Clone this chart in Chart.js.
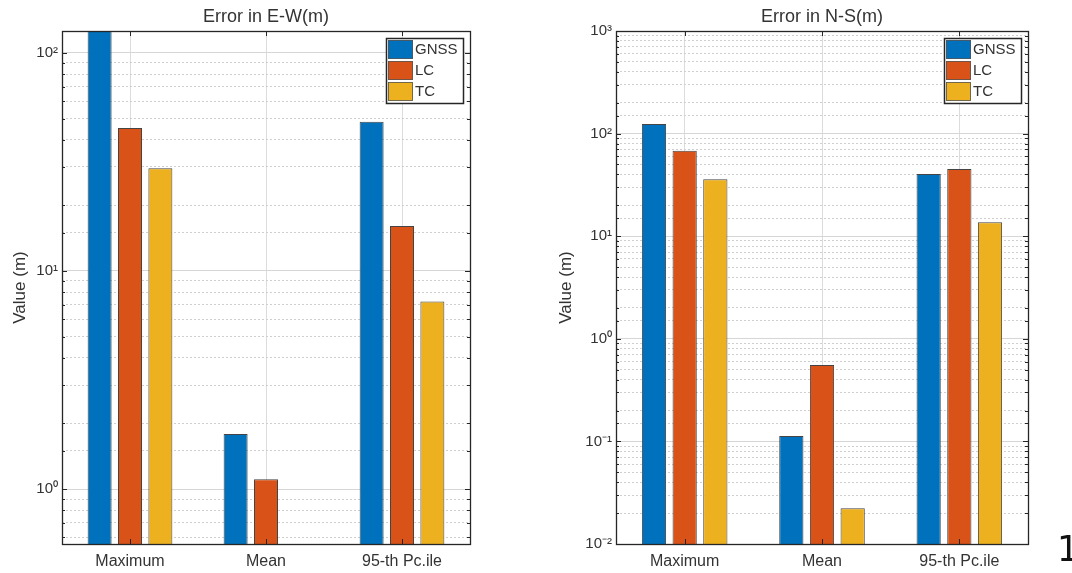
<!DOCTYPE html>
<html>
<head>
<meta charset="utf-8">
<script src="https://cdn.jsdelivr.net/npm/chart.js@4.4.1/dist/chart.umd.min.js"></script>
<style>
  html, body { margin: 0; padding: 0; background: #fff; }
  body { width: 1072px; height: 573px; position: relative; overflow: hidden; }
  canvas { position: absolute; top: 0; }
  #ewChart { left: 0; }
  #nsChart { left: 540px; }
  #pageNum { position: absolute; left: 1057px; top: 532px; font: 35px/1 'DejaVu Sans', sans-serif; color: #111; }
</style>
</head>
<body>
<canvas id="ewChart" width="540" height="573"></canvas>
<canvas id="nsChart" width="532" height="573"></canvas>
<div id="pageNum">1</div>
<script>
'use strict';

// Categorias e séries
var categories = ['Maximum', 'Mean', '95-th Pc.ile'];
var seriesNames = ['GNSS', 'LC', 'TC'];
var seriesColors = ['#0072BD', '#D95319', '#EDB120'];

// Erro E-W (m)
var ewGnss = [130, 1.79, 48.3];
var ewLc = [45.2, 1.11, 16.1];
var ewTc = [29.6, null, 7.25];

// Erro N-S (m)
var nsGnss = [124, 0.113, 40.4];
var nsLc = [68, 0.556, 45.2];
var nsTc = [35.9, 0.0223, 13.7];

// Marcas do eixo Y
var ewTickValues = [1, 10, 100];
var ewTickLabels = ['10\u2070', '10\u00B9', '10\u00B2'];
var nsTickValues = [0.01, 0.1, 1, 10, 100, 1000];
var nsTickLabels = ['10\u207B\u00B2', '10\u207B\u00B9', '10\u2070', '10\u00B9', '10\u00B2', '10\u00B3'];

var FONT = "'Liberation Sans', Arial, Helvetica, sans-serif";
var TEXT = '#333333';
var FRAME = '#262626';

function isDecade(v) {
    var l = Math.log10(v);
    return Math.abs(l - Math.round(l)) < 1e-6;
}

// Caixa dos eixos + marcas para dentro (estilo MATLAB)
var axesBox = {
    id: 'axesBox',
    afterDatasetsDraw: function(chart) {
        var ctx = chart.ctx, a = chart.chartArea;
        var x = chart.scales.x, y = chart.scales.y;
        ctx.save();
        ctx.strokeStyle = FRAME;
        ctx.lineWidth = 1;
        ctx.beginPath();
        y.ticks.forEach(function(t) {
            var py = Math.round(y.getPixelForValue(t.value)) + 0.5;
            var len = isDecade(t.value) ? 5 : 3;
            ctx.moveTo(a.left, py); ctx.lineTo(a.left + len, py);
            ctx.moveTo(a.right, py); ctx.lineTo(a.right - len, py);
        });
        categories.forEach(function(c, i) {
            var px = Math.round(x.getPixelForValue(i)) + 0.5;
            ctx.moveTo(px, a.bottom); ctx.lineTo(px, a.bottom - 5);
            ctx.moveTo(px, a.top); ctx.lineTo(px, a.top + 5);
        });
        ctx.stroke();
        ctx.lineWidth = 1.3;
        ctx.strokeRect(Math.round(a.left) + 0.5, Math.round(a.top) + 0.5,
            Math.round(a.right - a.left), Math.round(a.bottom - a.top));
        ctx.restore();
    }
};

// Legenda em caixa no canto superior direito
var boxLegend = {
    id: 'boxLegend',
    afterDraw: function(chart) {
        var ctx = chart.ctx, a = chart.chartArea;
        var w = 77, h = 65;
        var left = a.right - 84, top = a.top + 7;
        ctx.save();
        ctx.fillStyle = '#fff';
        ctx.fillRect(left, top, w, h);
        ctx.font = '15px ' + FONT;
        ctx.textBaseline = 'middle';
        chart.data.datasets.forEach(function(ds, i) {
            var ry = top + 2 + i * 21;
            ctx.fillStyle = ds.backgroundColor;
            ctx.fillRect(left + 2, ry, 25, 19);
            ctx.strokeStyle = '#555';
            ctx.lineWidth = 0.8;
            ctx.strokeRect(left + 2.5, ry + 0.5, 24, 18);
            ctx.fillStyle = TEXT;
            ctx.fillText(ds.label, left + 29, ry + 10);
        });
        ctx.strokeStyle = FRAME;
        ctx.lineWidth = 1.5;
        ctx.strokeRect(left + 0.5, top + 0.5, w, h);
        ctx.restore();
    }
};

function makeChart(canvasId, values, yMin, yMax, tickValues, tickLabels, titleText, axisWidth, yTitlePad, rightPad) {
    var datasets = values.map(function(v, i) {
        return {
            label: seriesNames[i],
            data: v,
            backgroundColor: seriesColors[i],
            borderColor: '#444',
            borderWidth: 1,
            categoryPercentage: 0.67,
            barPercentage: 0.79
        };
    });

    return new Chart(document.getElementById(canvasId), {
        type: 'bar',
        data: { labels: categories, datasets: datasets },
        options: {
            responsive: false,
            animation: false,
            layout: { padding: { left: 0, right: rightPad, top: 0, bottom: 0 } },
            plugins: {
                legend: { display: false },
                tooltip: { enabled: false },
                title: {
                    display: true,
                    text: titleText,
                    fullSize: false,
                    color: TEXT,
                    font: { family: FONT, size: 18, weight: 'normal', lineHeight: 1.2 },
                    padding: { top: 6, bottom: 3.4 }
                }
            },
            scales: {
                x: {
                    afterFit: function(scale) { scale.height = 29; },
                    grid: { offset: false, color: '#dcdcdc', drawTicks: false },
                    border: { display: false },
                    ticks: { color: TEXT, font: { family: FONT, size: 16 }, padding: 8 }
                },
                y: {
                    type: 'logarithmic',
                    min: yMin,
                    max: yMax,
                    afterFit: function(scale) { scale.width = axisWidth; },
                    title: {
                        display: true,
                        text: 'Value (m)',
                        color: TEXT,
                        font: { family: FONT, size: 17, lineHeight: 1.2 },
                        padding: { top: yTitlePad, bottom: 0 }
                    },
                    grid: {
                        drawTicks: false,
                        color: function(c) { return isDecade(c.tick.value) ? '#d6d6d6' : '#cfcfcf'; }
                    },
                    border: {
                        display: false,
                        dash: function(c) { return isDecade(c.tick.value) ? [] : [2, 2]; }
                    },
                    ticks: {
                        autoSkip: false,
                        color: TEXT,
                        padding: 4,
                        font: { family: FONT, size: 15 },
                        callback: function(v) {
                            for (var i = 0; i < tickValues.length; i++) {
                                if (Math.abs(Math.log10(v) - Math.log10(tickValues[i])) < 1e-6) return tickLabels[i];
                            }
                            return '';
                        }
                    }
                }
            }
        },
        plugins: [axesBox, boxLegend]
    });
}

makeChart('ewChart', [ewGnss, ewLc, ewTc], 0.56, 126, ewTickValues, ewTickLabels, 'Error in E-W(m)', 62, 10, 70);
makeChart('nsChart', [nsGnss, nsLc, nsTc], 0.01, 1000, nsTickValues, nsTickLabels, 'Error in N-S(m)', 76, 16.5, 44);
</script>
</body>
</html>
